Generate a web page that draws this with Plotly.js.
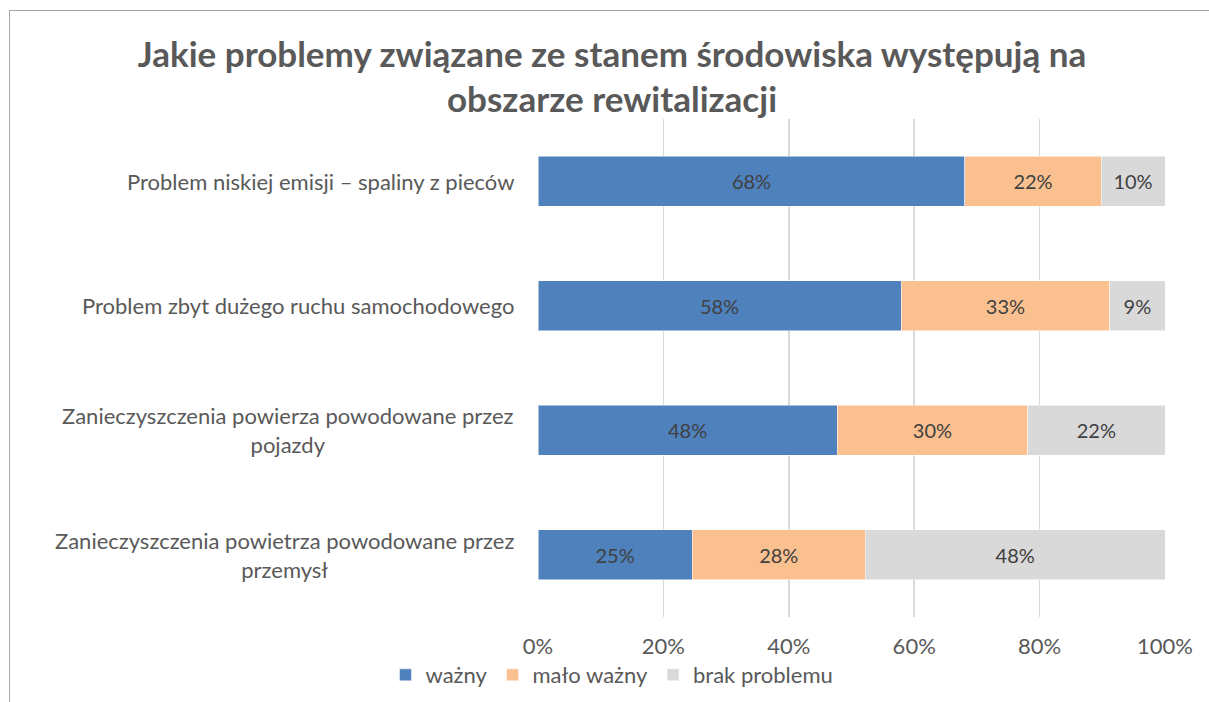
<!DOCTYPE html>
<html>
<head>
<meta charset="utf-8">
<script src="https://cdn.plot.ly/plotly-3.0.1.min.js"></script>
<style>
  html, body { margin: 0; padding: 0; background: #fff; overflow: hidden; }
  #frame { position: absolute; left: 9px; top: 10px; width: 1220px; height: 720px;
           border-left: 1px solid #a6a6a6; border-top: 1px solid #a6a6a6; }
  #chart { position: absolute; left: 0; top: 0; width: 1209px; height: 702px; }
</style>
</head>
<body>
<div id="frame"></div>
<div id="chart"></div>
<script>
const categories = [
  "Problem niskiej emisji – spaliny z pieców",
  "Problem zbyt dużego ruchu samochodowego",
  "Zanieczyszczenia powierza powodowane przez<br>pojazdy",
  "Zanieczyszczenia powietrza powodowane przez<br>przemysł"
];
const seriesNames = ["ważny", "mało ważny", "brak problemu"];
const wazny = [68.1, 57.9, 47.7, 24.6];
const maloWazny = [21.7, 33.3, 30.4, 27.6];
const brakProblemu = [10.2, 8.8, 21.9, 47.8];
const colors = ["#4f81bd", "#fac090", "#d9d9d9"];
const tickValues = [0, 20, 40, 60, 80, 100];

const FONT = "Lato, 'Noto Sans', sans-serif";
const ids = categories.map((c, i) => "c" + i);

const traces = [wazny, maloWazny, brakProblemu].map((vals, k) => ({
  type: "bar",
  orientation: "h",
  name: seriesNames[k],
  y: ids,
  x: vals,
  marker: { color: colors[k], line: { color: "#ffffff", width: 0.5 } },
  text: vals.map(v => Math.round(v) + "%"),
  textposition: "inside",
  insidetextanchor: "middle",
  textfont: { family: FONT, size: 20, color: "#404040" },
  hoverinfo: "name+x"
}));

// category labels as annotations so the second line is centred
const annotations = categories.map((c, i) => ({
  xref: "paper", yref: "y",
  x: 0, y: ids[i],
  xanchor: "right", yanchor: "middle",
  xshift: -22,
  text: c,
  align: "center",
  showarrow: false,
  font: { family: FONT, size: 22, color: "#595959" }
}));

const layout = {
  width: 1209,
  height: 702,
  margin: { l: 538, r: 44, t: 119, b: 85, autoexpand: false },
  paper_bgcolor: "rgba(0,0,0,0)",
  plot_bgcolor: "rgba(0,0,0,0)",
  barmode: "stack",
  bargap: 0.6,
  showlegend: true,
  title: {
    text: "<b>Jakie problemy związane ze stanem środowiska występują na<br>obszarze rewitalizacji</b>",
    font: { family: FONT, size: 35, color: "#595959" },
    x: 612 / 1209, xanchor: "center",
    y: 0.905, yanchor: "top", yref: "container"
  },
  xaxis: {
    range: [0, 100],
    tickvals: tickValues,
    ticktext: tickValues.map(v => v + "%"),
    showgrid: true,
    gridcolor: "#d9d9d9",
    gridwidth: 1.5,
    zeroline: false,
    showline: false,
    ticks: "outside",
    ticklen: 10,
    tickcolor: "rgba(0,0,0,0)",
    tickfont: { family: FONT, size: 22, color: "#595959" },
    fixedrange: true
  },
  yaxis: {
    type: "category",
    categoryorder: "array",
    categoryarray: ids,
    autorange: "reversed",
    showticklabels: false,
    showgrid: false,
    zeroline: false,
    fixedrange: true
  },
  legend: {
    orientation: "h",
    x: 612 / 1209, xanchor: "center", xref: "container",
    y: 1 - 675 / 702, yanchor: "middle", yref: "container",
    font: { family: FONT, size: 22, color: "#595959" },
    itemwidth: 30,
    traceorder: "normal"
  },
  annotations: annotations
};

Plotly.newPlot("chart", traces, layout, { displayModeBar: false, staticPlot: true });
</script>
</body>
</html>
